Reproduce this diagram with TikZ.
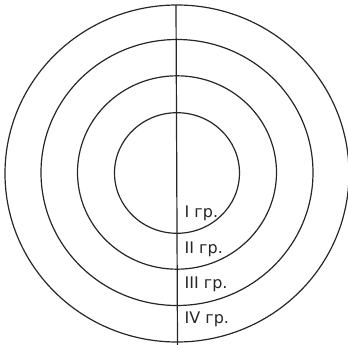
\documentclass[tikz,border=0pt]{standalone}
\usepackage{fontspec}
\setmainfont{DejaVu Sans}
\begin{document}
\begin{tikzpicture}[x=1pt,y=-1pt,
  ring/.style={draw=black!85,line width=1.2pt},
  grp/.style={anchor=base west,inner sep=0pt,font=\fontsize{16}{16}\selectfont,text=black!85}]
\useasboundingbox (0,0) rectangle (348,345);
\draw[ring] (177,173.5) ellipse [x radius=172,y radius=168.5];
\draw[ring] (177,172.5) ellipse [x radius=136,y radius=133];
\draw[ring] (177,172.5) ellipse [x radius=99.5,y radius=96.7];
\draw[ring] (177,173) ellipse [x radius=62.5,y radius=60.3];
\coordinate (top) at (176,5);
\coordinate (bot) at (177.5,345);
\draw[ring] (top) -- (bot);
\node[grp] (g1) at (184.5,217) {I гр.};
\node[grp] (g2) at (184.5,253) {II гр.};
\node[grp] (g3) at (184.5,288) {III гр.};
\node[grp] (g4) at (184.5,323) {IV гр.};
\end{tikzpicture}
\end{document}
